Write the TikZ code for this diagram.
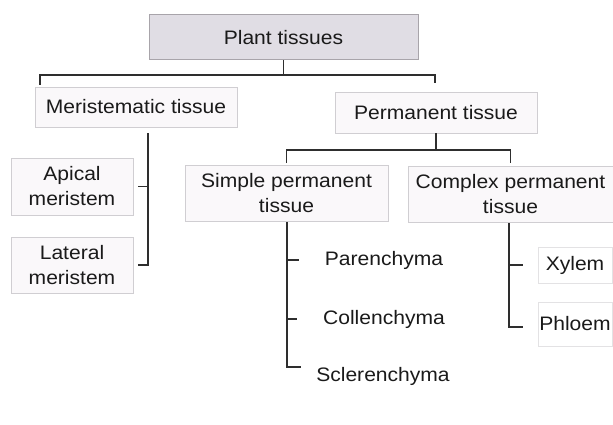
\documentclass[tikz,border=0pt]{standalone}
\usepackage{fontspec}
\setmainfont[FakeStretch=1.08]{Liberation Sans}
\definecolor{topfill}{HTML}{E0DDE4}
\definecolor{topline}{HTML}{A8A4AA}
\definecolor{faint}{HTML}{D0CED2}
\definecolor{boxfill}{HTML}{FAF8FA}
\definecolor{ink}{HTML}{2E2E2E}
\definecolor{txt}{HTML}{1A1A1A}
\begin{document}
\begin{tikzpicture}[x=1pt,y=-1pt,
  every node/.style={text=txt, inner sep=0pt, align=center, font=\fontsize{19.5}{25}\selectfont},
  topbox/.style={draw=topline, fill=topfill, line width=1pt},
  catbox/.style={draw=faint, fill=boxfill, line width=0.7pt},
  leafbox/.style={draw=faint!60, line width=0.6pt},
  conn/.style={draw=ink, line width=1.1pt}]
\useasboundingbox (0,0) rectangle (613,425);
\fill[white] (0,0) rectangle (613,425);

% nodes
\node[topbox, minimum width=269pt, minimum height=45pt] (pt) at (283.5,37.5) {Plant tissues};
\node[catbox, minimum width=202pt, minimum height=40pt] (mt) at (136,107) {Meristematic tissue};
\node[catbox, minimum width=202pt, minimum height=41pt] (pm) at (436,112.5) {Permanent tissue};
\node[catbox, minimum width=122pt, minimum height=57pt] (am) at (72,186.5) {Apical\\meristem};
\node[catbox, minimum width=122pt, minimum height=56pt] (lm) at (72,265) {Lateral\\meristem};
\node[catbox, minimum width=203pt, minimum height=56pt] (sp) at (286.5,193) {Simple permanent\\tissue};
\node[catbox, minimum width=205pt, minimum height=56pt] (cp) at (510.5,194) {Complex permanent\\tissue};
\node (par) at (384,260) {Parenchyma};
\node (col) at (384,319) {Collenchyma};
\node (scl) at (383,376) {Sclerenchyma};
\node[leafbox, minimum width=74pt, minimum height=36pt] (xy) at (575,265) {Xylem};
\node[leafbox, minimum width=74pt, minimum height=44pt] (ph) at (575,324) {Phloem};

% coordinates for buses / trunks
\coordinate (b1) at (0,75);
\coordinate (b1L) at (40,85);
\coordinate (b1R) at (435,83);
\coordinate (b2) at (0,150);
\coordinate (mtr) at (148,0);
\coordinate (str) at (287,0);
\coordinate (ctr) at (509,0);

% connectors
\draw[conn] (pt.south) -- (pt.south |- b1);
\draw[conn] (b1L) -- (b1L |- b1) -- (b1R |- b1) -- (b1R);

\draw[conn] ([yshift=-6pt]mt.south -| mtr) |- ([xshift=5pt]lm.east);
\draw[conn] ([xshift=5pt]am.east) -- (am.east -| mtr);

\draw[conn] (pm.south) -- (pm.south |- b2);
\draw[conn] ([yshift=2pt]sp.north) -- (sp.north |- b2) -- (cp.north |- b2) -- ([yshift=3pt]cp.north);

\draw[conn] ([yshift=-1pt]sp.south -| str) |- ([xshift=-15pt,yshift=9pt]scl.west);
\draw[conn] (par.west -| str) -- ([xshift=-26pt]par.west);
\draw[conn] (col.west -| str) -- ([xshift=-26pt]col.west);

\draw[conn] ([yshift=-1pt]cp.south -| ctr) |- ([xshift=-15pt,yshift=-3pt]ph.west -| xy.west);
\draw[conn] (xy.west -| ctr) -- ([xshift=-15pt]xy.west);
\end{tikzpicture}
\end{document}
